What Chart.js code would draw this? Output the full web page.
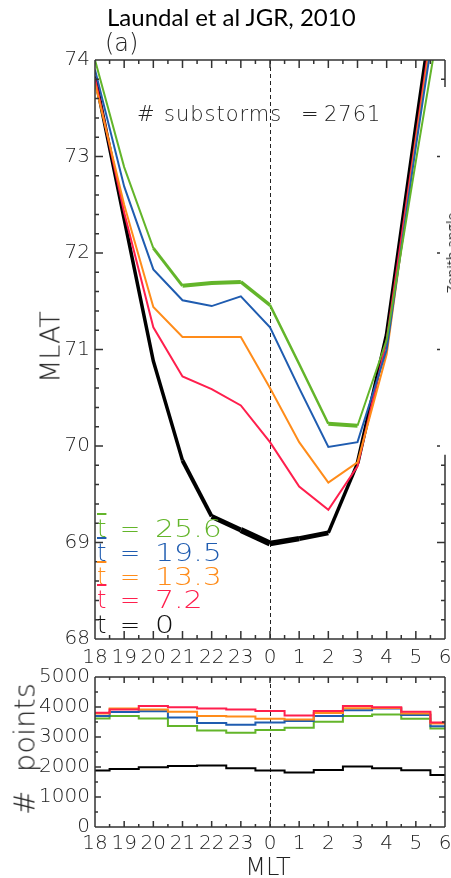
<!DOCTYPE html>
<html>
<head>
<meta charset="utf-8">
<script src="https://cdn.jsdelivr.net/npm/chart.js@4.4.1/dist/chart.umd.min.js"></script>
<style>
  body { margin: 0; background: #fff; }
  #wrap { position: relative; width: 451px; height: 878px; overflow: hidden; }
  canvas { position: absolute; left: 0; }
  .txt { position: absolute; white-space: pre; font-family: 'DejaVu Sans', sans-serif; font-weight: 300; line-height: 1; color: #222; }
  .rot { transform: translate(-50%, -50%) rotate(-90deg); }
  .ov { text-decoration: overline; }
  .leg { left: 0; font-size: 24px; }
  .leg span { position: absolute; top: 0; }
  .num { transform: scaleX(1.25); transform-origin: left; }
  .sub { top: 104px; font-size: 21px; }
</style>
</head>
<body>
<div id="wrap">
  <canvas id="mlatChart" width="451" height="668" style="top:0"></canvas>
  <canvas id="countChart" width="451" height="218" style="top:660px"></canvas>

  <div class="txt" style="left:107px; top:5px; font-family: Lato, 'Open Sans', sans-serif; font-weight: 400; font-size: 24px; color:#000">Laundal et al JGR, 2010</div>
  <div class="txt" style="left:105px; top:31px; font-size: 24px">(a)</div>

  <div class="txt sub" style="left:137px">#</div>
  <div class="txt sub" style="left:164px; letter-spacing: 1px">substorms</div>
  <div class="txt sub" style="left:301px">=</div>
  <div class="txt sub" style="left:324px; letter-spacing: 1px">2761</div>

  <div class="txt leg" style="top:517px; color:#63b52a"><span class="ov" style="left:97px">t</span><span style="left:120px">=</span><span class="num" style="left:155px">25.6</span></div>
  <div class="txt leg" style="top:541px; color:#1f5cb0"><span class="ov" style="left:97px">t</span><span style="left:120px">=</span><span class="num" style="left:155px">19.5</span></div>
  <div class="txt leg" style="top:565px; color:#ff8c1a"><span class="ov" style="left:97px">t</span><span style="left:120px">=</span><span class="num" style="left:155px">13.3</span></div>
  <div class="txt leg" style="top:588px; color:#ff1f4d"><span class="ov" style="left:97px">t</span><span style="left:120px">=</span><span class="num" style="left:155px">7.2</span></div>
  <div class="txt leg" style="top:613px; color:#111"><span style="left:97px">t</span><span style="left:120px">=</span><span class="num" style="left:155px">0</span></div>

  <div class="txt rot" style="left:50px; top:347px; font-size: 27px">MLAT</div>
  <div class="txt rot" style="left:25px; top:749px; font-size: 29px">#  points</div>
  <div class="txt" style="left:268px; top:855px; font-size: 24px; transform: translateX(-50%)">MLT</div>
  <div class="txt rot" style="left:452px; top:253px; font-size: 14px; font-family: 'Open Sans', sans-serif; font-weight: 400; color:#333">Zenith angle</div>
</div>

<script>
// magnetic local time bins (x index 0..12)
const mltLabels = ['18', '19', '20', '21', '22', '23', '0', '1', '2', '3', '4', '5', '6'];

// boundary MLAT for each time after onset
const latT0   = [73.83, 72.35, 70.88, 69.85, 69.27, 69.13, 68.99, 69.04, 69.10, 69.82, 71.15, 73.30, 75.40];
const latT72  = [73.81, 72.42, 71.23, 70.72, 70.59, 70.42, 70.04, 69.58, 69.34, 69.79, 71.10, 73.20, 75.30];
const latT133 = [73.76, 72.50, 71.44, 71.13, 71.13, 71.13, 70.60, 70.04, 69.62, 69.83, 70.95, 73.15, 75.20];
const latT195 = [73.90, 72.69, 71.83, 71.51, 71.45, 71.55, 71.23, 70.60, 69.99, 70.04, 71.00, 73.10, 75.10];
const latT256 = [74.00, 72.89, 72.05, 71.66, 71.69, 71.70, 71.46, 70.85, 70.23, 70.21, 71.10, 72.95, 74.75];

// line thickness per segment (thicker where the figure draws it heavier)
const widthT0   = [3.5, 3.5, 3.5, 4, 5, 6, 5.5, 5, 3.5, 4, 4, 4];
const widthT256 = [2, 2, 3, 4, 4, 3.5, 2.5, 2.5, 4, 2, 2, 2];

// number of data points per MLT bin
const ptsT0   = [1880, 1930, 1990, 2030, 2050, 1960, 1880, 1820, 1900, 2020, 1960, 1890, 1730];
const ptsT72  = [3810, 3920, 4030, 3990, 3950, 3920, 3870, 3720, 3870, 4030, 3990, 3840, 3480];
const ptsT133 = [3780, 3950, 3920, 3840, 3700, 3680, 3610, 3580, 3800, 3960, 3970, 3780, 3450];
const ptsT195 = [3700, 3830, 3860, 3650, 3470, 3410, 3480, 3530, 3700, 3890, 3950, 3730, 3360];
const ptsT256 = [3620, 3700, 3620, 3370, 3220, 3140, 3230, 3310, 3510, 3700, 3750, 3610, 3280];

const GREEN = '#63b52a', BLUE = '#1f5cb0', ORANGE = '#ff8c1a', RED = '#ff1f4d', BLACK = '#000';
const FONT = "'DejaVu Sans', sans-serif";

const toXY = arr => arr.map((v, i) => ({ x: i, y: v }));

// IDL-like frame: inward ticks on all sides, dashed midnight line
const idlFrame = {
  id: 'idlFrame',
  beforeDatasetsDraw(chart, args, o) {
    const { ctx, chartArea: a, scales: { x } } = chart;
    const px = Math.round(x.getPixelForValue(o.dashAt)) + 0.5;
    ctx.save();
    ctx.strokeStyle = '#222';
    ctx.lineWidth = 1;
    ctx.setLineDash([4, 3]);
    ctx.beginPath();
    ctx.moveTo(px, a.top);
    ctx.lineTo(px, a.bottom);
    ctx.stroke();
    ctx.restore();
  },
  afterDatasetsDraw(chart, args, o) {
    const { ctx, chartArea: a, scales: { x, y } } = chart;
    const seg = (x1, y1, x2, y2) => { ctx.moveTo(x1, y1); ctx.lineTo(x2, y2); };
    ctx.save();
    ctx.strokeStyle = '#333';
    ctx.lineWidth = 1.5;
    ctx.beginPath();
    seg(a.left, a.top, a.left, a.bottom);
    seg(a.left, a.top, a.right, a.top);
    seg(a.left, a.bottom, a.right, a.bottom);
    let g0 = null, g1 = null;
    if (o.rightGap) {
      g0 = y.getPixelForValue(o.rightGap[0]);
      g1 = y.getPixelForValue(o.rightGap[1]);
      seg(a.right, a.top, a.right, g0);
      seg(a.right, g1, a.right, a.bottom);
    } else {
      seg(a.right, a.top, a.right, a.bottom);
    }
    const nx = Math.round((x.max - x.min) / o.xMinor);
    for (let i = 0; i <= nx; i++) {
      const v = x.min + i * o.xMinor;
      const p = x.getPixelForValue(v);
      const len = Math.abs(v - Math.round(v)) < 1e-6 ? o.major : o.minor;
      seg(p, a.bottom, p, a.bottom - len);
      seg(p, a.top, p, a.top + len);
    }
    const ny = Math.round((y.max - y.min) / o.yMinor);
    for (let i = 0; i <= ny; i++) {
      const v = y.min + i * o.yMinor;
      const p = y.getPixelForValue(v);
      const r = v / o.yMajor;
      const isMajor = Math.abs(r - Math.round(r)) < 1e-6;
      const len = isMajor ? o.major : o.minor;
      seg(a.left, p, a.left + len, p);
      if (g0 !== null && p > g0 && p < g1) {
        if (isMajor) seg(a.right - 8, p, a.right - 5, p);
      } else {
        seg(a.right, p, a.right - len, p);
      }
    }
    ctx.stroke();
    ctx.restore();
  }
};

function xAxis(height, pad) {
  return {
    type: 'linear', min: 0, max: 12,
    grid: { display: false, drawTicks: false },
    border: { display: false },
    ticks: {
      stepSize: 1, autoSkip: false, maxRotation: 0, padding: pad,
      color: '#222', font: { family: FONT, size: 20, weight: 300 },
      callback: v => mltLabels[v]
    },
    afterFit: s => { s.height = height; s.paddingLeft = 0; s.paddingRight = 0; }
  };
}

function yAxis(min, max, step) {
  return {
    min: min, max: max,
    grid: { display: false, drawTicks: false },
    border: { display: false },
    ticks: {
      stepSize: step, padding: 5,
      color: '#222', font: { family: FONT, size: 20, weight: 300 },
      callback: v => String(v)
    },
    afterFit: s => { s.width = 95; s.paddingTop = 0; s.paddingBottom = 0; }
  };
}

function latLine(data, color, widths) {
  return {
    data: toXY(data),
    borderColor: color,
    borderWidth: 2,
    pointRadius: 0,
    tension: 0,
    clip: 0,
    segment: widths ? { borderWidth: c => widths[c.p0DataIndex] } : undefined
  };
}

function countLine(data, color) {
  return {
    data: toXY(data),
    borderColor: color,
    borderWidth: 2,
    pointRadius: 0,
    stepped: 'middle',
    clip: 0
  };
}

// Top panel: MLAT of the boundary vs MLT
new Chart(document.getElementById('mlatChart'), {
  type: 'line',
  data: {
    datasets: [
      latLine(latT256, GREEN, widthT256),
      latLine(latT195, BLUE),
      latLine(latT133, ORANGE),
      latLine(latT72, RED),
      latLine(latT0, BLACK, widthT0)
    ]
  },
  options: {
    responsive: false,
    animation: false,
    layout: { padding: { left: 0, right: 6, top: 60, bottom: 0 } },
    plugins: {
      legend: { display: false },
      tooltip: { enabled: false },
      idlFrame: { dashAt: 6, xMinor: 0.5, yMinor: 0.2, yMajor: 1, major: 8, minor: 4, rightGap: [73.72, 69.91] }
    },
    scales: {
      x: xAxis(29, 7),
      y: yAxis(68, 74, 1)
    }
  },
  plugins: [idlFrame]
});

// Bottom panel: number of points per MLT bin
new Chart(document.getElementById('countChart'), {
  type: 'line',
  data: {
    datasets: [
      countLine(ptsT72, RED),
      countLine(ptsT133, ORANGE),
      countLine(ptsT195, BLUE),
      countLine(ptsT256, GREEN),
      countLine(ptsT0, BLACK)
    ]
  },
  options: {
    responsive: false,
    animation: false,
    layout: { padding: { left: 0, right: 6, top: 17, bottom: 0 } },
    plugins: {
      legend: { display: false },
      tooltip: { enabled: false },
      idlFrame: { dashAt: 6, xMinor: 0.5, yMinor: 500, yMajor: 1000, major: 6, minor: 3 }
    },
    scales: {
      x: xAxis(51, 5),
      y: yAxis(0, 5000, 1000)
    }
  },
  plugins: [idlFrame]
});
</script>
</body>
</html>
